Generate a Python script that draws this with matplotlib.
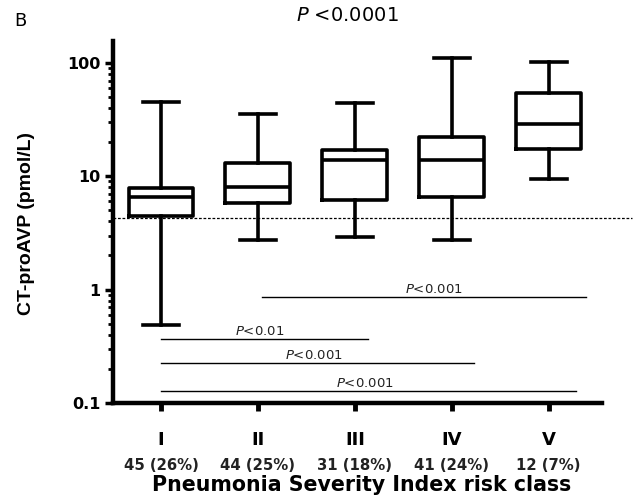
import matplotlib.pyplot as plt
import matplotlib.transforms as mtransforms
from matplotlib.ticker import FixedLocator, LogLocator, NullFormatter

# data
classes = ["I", "II", "III", "IV", "V"]
counts = ["45 (26%)", "44 (25%)", "31 (18%)", "41 (24%)", "12 (7%)"]
whis_lo = [0.49, 2.75, 2.9, 2.75, 9.4]
q1 = [4.45, 5.8, 6.2, 6.5, 17.3]
median = [6.5, 8.0, 13.8, 13.8, 29.2]
q3 = [7.85, 13.0, 16.9, 22.4, 54.6]
whis_hi = [45.5, 35.7, 44.6, 110.0, 102.0]
cutoff = 4.3

# pairwise comparisons
cmp_start = [2.04, 1.0, 1.0, 1.0]
cmp_end = [5.39, 3.14, 4.23, 5.28]
cmp_y = [0.86, 0.366, 0.225, 0.127]
cmp_text_x = [3.82, 2.02, 2.58, 3.1]
cmp_label = ["<0.001", "<0.01", "<0.001", "<0.001"]

fig = plt.figure(figsize=(6.35, 4.95), dpi=100)
ax = fig.add_axes([0.178, 0.186, 0.77, 0.731])

stats = []
for i in range(len(classes)):
    stats.append(dict(whislo=whis_lo[i], q1=q1[i], med=median[i],
                      q3=q3[i], whishi=whis_hi[i], fliers=[]))
pos = list(range(1, len(classes) + 1))
lw = 2.6
ax.bxp(stats, positions=pos, widths=0.67, showfliers=False,
       boxprops=dict(color="black", lw=lw),
       medianprops=dict(color="black", lw=lw),
       whiskerprops=dict(color="black", lw=lw),
       capprops=dict(color="black", lw=lw),
       capwidths=0.37)

ax.set_yscale("log")
ax.set_ylim(0.1, 156)
ax.set_xlim(0.505, 5.55)

# dashed cut-off line runs past the right edge of the axes
ax.plot([0.505, 5.86], [cutoff, cutoff], color="black", lw=0.9,
        ls=(0, (2.2, 1.4)), clip_on=False, zorder=1)

for xs, xe, y, tx, lab in zip(cmp_start, cmp_end, cmp_y, cmp_text_x, cmp_label):
    ax.plot([xs, xe], [y, y], color="black", lw=1.0)
    ax.text(tx, y * 1.03, r"$\it{P}$" + lab,
            ha="center", va="bottom", fontsize=9.5, color="#222222")

for s in ["top", "right"]:
    ax.spines[s].set_visible(False)
for s in ["left", "bottom"]:
    ax.spines[s].set_linewidth(3.2)

ax.yaxis.set_major_locator(FixedLocator([0.1, 1, 10, 100]))
ax.set_yticklabels(["0.1", "1", "10", "100"], fontweight="bold", fontsize=11.5)
ax.yaxis.set_minor_locator(LogLocator(base=10, subs=range(2, 10)))
ax.yaxis.set_minor_formatter(NullFormatter())
ax.tick_params(axis="y", which="major", length=6, width=2.5, pad=3)
ax.tick_params(axis="y", which="minor", length=3.5, width=2.0)

ax.set_xticks(pos)
ax.set_xticklabels(classes, fontweight="bold", fontsize=13)
ax.tick_params(axis="x", length=6, width=3.5, pad=14)

trans = mtransforms.blended_transform_factory(ax.transData, ax.transAxes)
for p, c in zip(pos, counts):
    ax.text(p, -0.174, c, transform=trans, ha="center", va="center",
            fontsize=10.7, fontweight="bold", color="#222222")

fig.text(0.569, 0.02, "Pneumonia Severity Index risk class", fontsize=14.8,
         fontweight="bold", ha="center", va="center")
fig.text(0.041, 0.548, "CT-proAVP (pmol/L)", fontsize=14, fontweight="bold",
         family="Liberation Sans", rotation=90, ha="center", va="center")

fig.text(0.022, 0.958, "B", fontsize=13, ha="left", va="center")
fig.text(0.547, 0.968, r"$\it{P}$ <0.0001", fontsize=14, ha="center",
         va="center")

fig.savefig("out.png", dpi=100, facecolor="white")
